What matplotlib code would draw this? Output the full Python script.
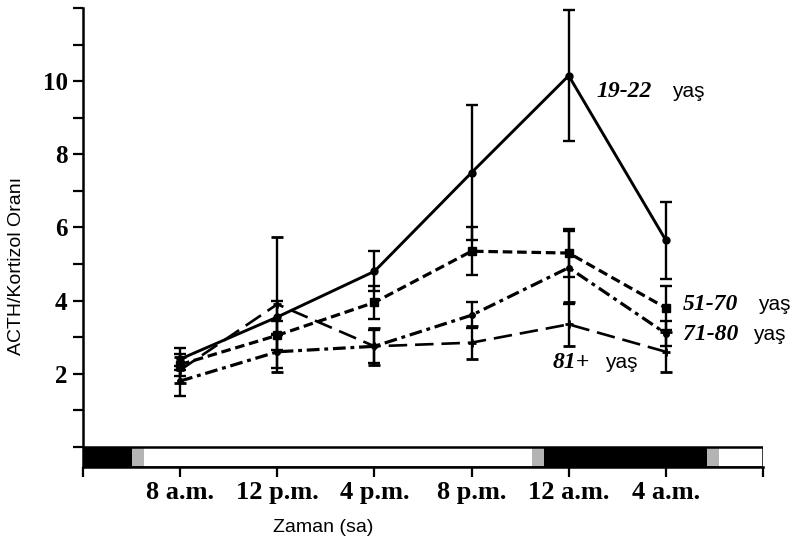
import matplotlib.pyplot as plt
from matplotlib.patches import Rectangle
from matplotlib.ticker import FixedLocator, FuncFormatter

# Zaman noktalari (saat, 8 a.m. = 8, 12 a.m. = 24)
saat = [8, 12, 16, 20, 24, 28]
saat_etiket = ['8 a.m.', '12 p.m.', '4 p.m.', '8 p.m.', '12 a.m.', '4 a.m.']

# Yas gruplari: ortalama ve hata
y_19_22 = [2.4, 3.55, 4.8, 7.5, 10.15, 5.65]
e_19_22 = [0.3, 0.45, 0.55, 1.85, 1.8, 1.05]
y_51_70 = [2.25, 3.05, 3.95, 5.35, 5.3, 3.8]
e_51_70 = [0.3, 0.4, 0.45, 0.65, 0.65, 0.6]
y_71_80 = [1.8, 2.6, 2.75, 3.6, 4.9, 3.1]
e_71_80 = [0.4, 0.45, 0.45, 0.35, 1.0, 0.35]
y_81 = [2.1, 3.9, 2.75, 2.85, 3.35, 2.6]
e_81 = [0.35, 1.85, 0.5, 0.45, 0.6, 0.55]

# Aydinlik / karanlik cubugu
cubuk_sinir = [4, 6, 6.5, 22.5, 23, 29.7, 30.2, 32]
cubuk_renk = ['black', '#b4b4b4', 'white', '#b4b4b4', 'black', '#b4b4b4', 'white']

fig = plt.figure(figsize=(7.92, 5.43), dpi=100)
ax = fig.add_axes([83 / 792, 1 - 467 / 543, 680 / 792, 459 / 543])

ax.errorbar(saat, y_19_22, yerr=e_19_22, color='black', lw=2.1, marker='o', ms=5,
            elinewidth=1.7, capsize=4, capthick=1.7, zorder=5)
ax.errorbar(saat, y_51_70, yerr=e_51_70, color='black', lw=2.3, ls=(0, (3, 1.5)),
            marker='s', ms=6, elinewidth=1.7, capsize=4, capthick=1.7, zorder=4)
ax.errorbar(saat, y_71_80, yerr=e_71_80, color='black', lw=2.3, ls=(0, (4, 1.5, 1.2, 1.5)),
            marker='o', ms=4, elinewidth=1.7, capsize=4, capthick=1.7, zorder=4)
ax.errorbar(saat, y_81, yerr=e_81, color='black', lw=1.9, ls=(0, (7, 3)),
            marker='+', ms=6, mew=2, elinewidth=1.7, capsize=4, capthick=1.7, zorder=4)

# cubuk
for i in range(len(cubuk_renk)):
    ax.add_patch(Rectangle((cubuk_sinir[i], -0.55), cubuk_sinir[i + 1] - cubuk_sinir[i], 0.55,
                           facecolor=cubuk_renk[i], edgecolor='none', zorder=2))
ax.add_patch(Rectangle((4, -0.55), 28, 0.55, facecolor='none', edgecolor='black', lw=1.8, zorder=3))

ax.set_xlim(4, 32)
ax.set_ylim(-0.55, 12)
for s in ['top', 'right']:
    ax.spines[s].set_visible(False)
ax.spines['left'].set_linewidth(1.8)
ax.spines['bottom'].set_linewidth(1.8)

ax.xaxis.set_major_locator(FixedLocator([4, 8, 12, 16, 20, 24, 28, 32]))
ax.xaxis.set_major_formatter(FuncFormatter(
    lambda v, p: saat_etiket[saat.index(int(v))] if int(v) in saat else ''))
ax.yaxis.set_major_locator(FixedLocator(range(0, 13)))
ax.yaxis.set_major_formatter(FuncFormatter(
    lambda v, p: str(int(v)) if int(v) in (2, 4, 6, 8, 10) else ''))
ax.tick_params(axis='both', direction='out', length=7, width=1.6)
ax.tick_params(axis='x', pad=3)
ax.tick_params(axis='y', pad=4)
for lab in ax.get_xticklabels():
    lab.set_fontfamily('Liberation Serif')
    lab.set_fontweight('bold')
    lab.set_fontsize(19)
for lab in ax.get_yticklabels():
    lab.set_fontfamily('Liberation Serif')
    lab.set_fontweight('bold')
    lab.set_fontsize(18)

# grup etiketleri
etiket_font = dict(family='Liberation Serif', style='italic', weight='bold', fontsize=17, va='center')
yas_font = dict(family='Liberation Sans', fontsize=15, va='center')
ax.text(25.15, 9.73, '19-22', **etiket_font)
ax.text(28.25, 9.73, 'yaş', **yas_font)
ax.text(28.7, 3.88, '51-70', **etiket_font)
ax.text(31.8, 3.88, 'yaş', **yas_font)
ax.text(28.7, 3.06, '71-80', **etiket_font)
ax.text(31.6, 3.06, 'yaş', **yas_font)
ax.text(23.35, 2.3, '81+', **etiket_font)
ax.text(25.5, 2.3, 'yaş', **yas_font)

fig.text(323 / 792, 1 - 527 / 543, 'Zaman (sa)', family='Liberation Sans', fontsize=14,
         ha='center', va='center')
fig.text(17 / 792, 1 - 266 / 543, 'ACTH/Kortizol Oranı', family='Liberation Sans', fontsize=14,
         ha='center', va='center', rotation=90)

fig.savefig('out.png', dpi=100)
